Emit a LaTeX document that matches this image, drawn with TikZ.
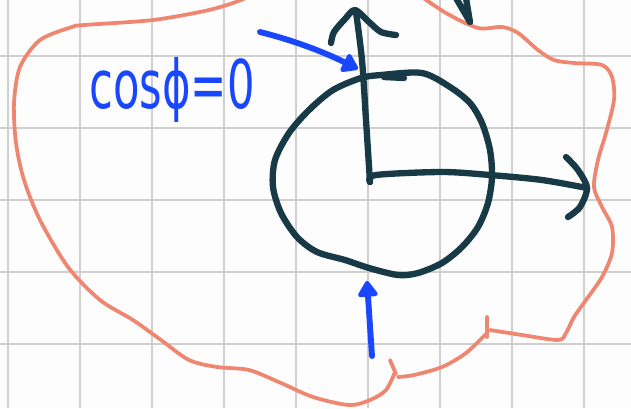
\documentclass[tikz,border=0pt]{standalone}
\usepackage{fontspec}
\usetikzlibrary{arrows.meta}
\newfontfamily\handfont{DejaVu Sans}
\definecolor{ink}{HTML}{173A46}
\definecolor{boundary}{HTML}{EE8670}
\definecolor{pen}{HTML}{1947FF}
\definecolor{paper}{HTML}{FDFDFD}
\definecolor{gridgray}{HTML}{CFCFCF}
\tikzset{
  gridline/.style={draw=gridgray,line width=2pt},
  outline/.style={draw=boundary,line width=3.2pt,line cap=round,line join=round},
  inkstroke/.style={draw=ink,line width=5.4pt,line cap=round,line join=round},
  penstroke/.style={draw=pen,line width=5pt,line cap=round,line join=round},
  penarrow/.style={penstroke,-{Triangle[length=15pt,width=19pt,round]}},
  handtext/.style={text=pen,font=\handfont\fontsize{37}{37}\selectfont,inner sep=0pt}
}

\begin{document}
\begin{tikzpicture}[x=0.03cm,y=-0.03cm]
  \useasboundingbox (0,0) rectangle (631,408);
  \fill[paper] (0,0) rectangle (631,408);
  \clip (0,0) rectangle (631,408);
  % squared paper
  \foreach \gx in {8,80,...,584} \draw[gridline] (\gx,0) -- (\gx,408);
  \foreach \gy in {56,128,...,344} \draw[gridline] (0,\gy) -- (631,\gy);
  % region boundary
  \draw[outline] plot[smooth] coordinates {(412,-10) (446,13) (478,28) (502,27) (518,33)
    (538,50) (554,60) (574,63) (602,65) (612,77) (614,100) (606,133) (598,160) (594,187)
    (602,207) (612,227) (612,253) (602,277) (586,300) (574,317) (566,333) (558,340)
    (522,335) (490,330)};
  \draw[outline] (487,317) -- (487,337);
  \draw[outline] plot[smooth] coordinates {(488,332) (466,353) (442,367) (414,375) (398,377)};
  \draw[outline] (390,360) -- (396,374);
  \draw[outline] plot[smooth] coordinates {(395,372) (386,390) (370,400) (349,405) (313,397)
    (281,383) (249,370) (217,367) (189,360) (161,340) (133,320) (100,300) (68,267) (40,220)
    (24,180) (16,143) (14,103) (20,67) (40,40) (72,27) (84,25) (153,20) (209,10) (241,0) (260,-10)};
  % unit circle and axes
  \draw[inkstroke] plot[smooth cycle] coordinates {(361,78) (381,75) (422,73) (450,87) (470,103)
    (482,123) (490,150) (492,177) (488,203) (478,227) (462,247) (442,263) (418,273) (398,275)
    (369,268) (345,260) (317,252) (297,237) (281,213) (273,187) (275,160) (289,133) (309,110) (333,90)};
  \draw[inkstroke] (384,77) -- (404,78);
  \draw[inkstroke] plot[smooth] coordinates {(370,182) (366,120) (362,60) (356,12)};
  \draw[inkstroke] plot[smooth] coordinates {(331,43) (334,32) (345,19) (355,10) (369,22) (381,32) (396,35)};
  \draw[inkstroke] plot[smooth] coordinates {(370,182) (376,175) (442,172) (490,175) (542,180) (587,188)};
  \draw[inkstroke] plot[smooth] coordinates {(566,157) (578,170) (587,188) (580,207) (568,217)};
  \draw[inkstroke] (456,-2) -- (470,22) -- (466,-2);
  % annotation
  \node[handtext] (cosnote) at (172,90) {\scalebox{1}[1.55]{cosϕ=0}};
  \coordinate (notestart) at (260,32);
  \coordinate (topmark) at (358,69);
  \coordinate (lowstart) at (372,356);
  \coordinate (lowmark) at (367,281);
  \draw[penarrow] (notestart) .. controls (300,42) and (330,55) .. (topmark);
  \draw[penarrow] (lowstart) -- (lowmark);
\end{tikzpicture}
\end{document}
